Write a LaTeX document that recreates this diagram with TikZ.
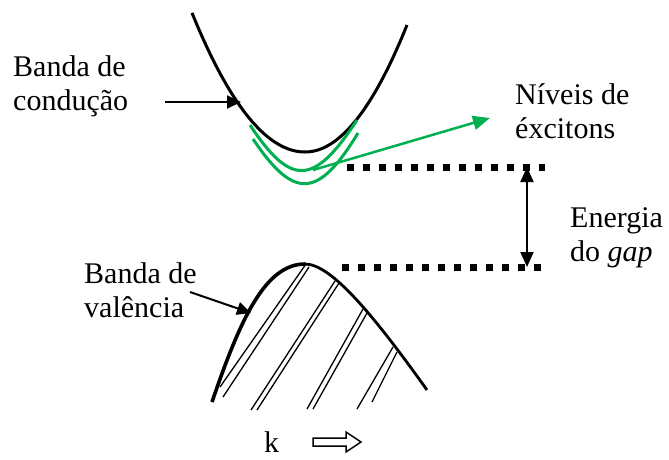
\documentclass[tikz,border=0pt]{standalone}
\usepackage{fontspec}
\setmainfont{Liberation Serif}
\usetikzlibrary{arrows.meta}
\definecolor{exgreen}{RGB}{0,176,80}
\begin{document}
\begin{tikzpicture}[x=1pt,y=-1pt,
  lbl/.style={anchor=base west,inner sep=0pt,font=\fontsize{30}{34}\selectfont},
  band/.style={line width=3pt,line join=round},
  hatch/.style={line width=1.3pt},
  exc/.style={exgreen,line width=3pt},
  ptr/.style={line width=2pt,-{Triangle[length=14pt,width=13pt]}},
  level/.style={line width=7pt,dash pattern=on 7pt off 9pt}]
\useasboundingbox (0,0) rectangle (669,459);
% labels
\node[lbl] (bc1) at (13,76) {Banda de};
\node[lbl] (bc2) at (13,110) {condução};
\node[lbl] (ne1) at (515,104) {Níveis de};
\node[lbl] (ne2) at (515,138) {éxcitons};
\node[lbl] (eg1) at (570,227) {Energia};
\node[lbl] (eg2) at (570,261) {do \textit{gap}};
\node[lbl] (bv1) at (84,283) {Banda de};
\node[lbl] (bv2) at (84,317) {valência};
\node[lbl] (k) at (264,452) {k};
% conduction band
\draw[band] plot[domain=192:305,samples=40] (\x,{152-0.0109*(\x-305)^2})
  -- plot[domain=305:407,samples=40] (\x,{152-0.0122*(\x-305)^2});
% exciton levels
\draw[exc] (250,125) .. controls (291,187) and (314,186) .. (357,120);
\draw[exc] (253,139) .. controls (294,200) and (318,199) .. (358,133);
% valence band
\draw[band,line width=3.6pt] (212,402) .. controls (240,320) and (265,264) .. (305,264);
\draw[band,line width=2.8pt] (305,264) .. controls (330,264) and (370,310) .. (427,390);
% hatching
\draw[hatch] (306,264) -- (220,387) (309,267) -- (223,397);
\draw[hatch] (335,281) -- (251,410) (339,283) -- (257,410);
\draw[hatch] (363,309) -- (307,409) (367,313) -- (313,409);
\draw[hatch] (393,347) -- (357,409) (397,352) -- (372,402);
% gap levels
\coordinate (u1) at (347,167); \coordinate (u2) at (545,167);
\coordinate (l1) at (342,267); \coordinate (l2) at (545,267);
\draw[level] (u1) -- (u2);
\draw[level] (l1) -- (l2);
\coordinate (gt) at (527,167); \coordinate (gb) at (527,267);
\draw[line width=2pt,{Triangle[length=15pt,width=13pt]}-{Triangle[length=15pt,width=13pt]}] (gt) -- (gb);
% pointer arrows
\coordinate (ca) at (165,102); \coordinate (cb) at (241,102);
\draw[ptr] (ca) -- (cb);
\coordinate (va) at (190,292); \coordinate (vb) at (251,313);
\draw[ptr] (va) -- (vb);
\coordinate (ga) at (313,170); \coordinate (gb2) at (490,118);
\draw[exgreen,line width=2.5pt,-{Triangle[length=17pt,width=14pt]}] (ga) -- (gb2);
% k arrow
\draw[line width=1.5pt,line join=miter] (313,438) -- (346,438) -- (346,432) -- (361,442)
  -- (346,452) -- (346,446) -- (313,446) -- cycle;
\end{tikzpicture}
\end{document}
